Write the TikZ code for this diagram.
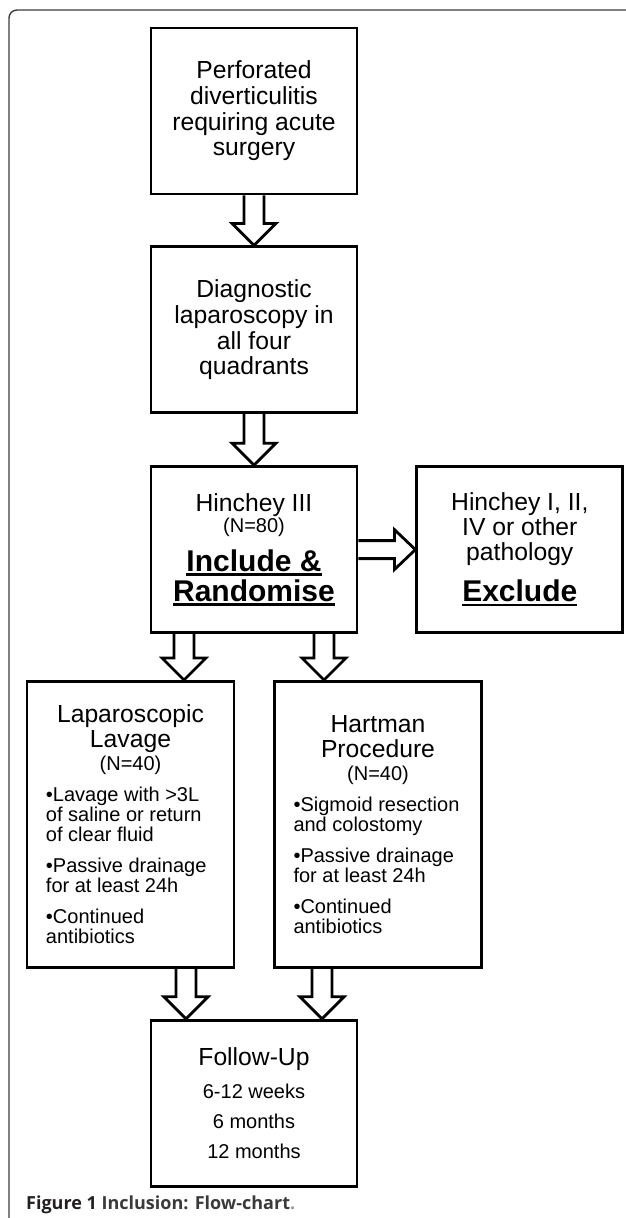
\documentclass[tikz,border=0pt]{standalone}
\usepackage{fontspec}
\setmainfont{Liberation Sans}
\newfontfamily\captionsans{Open Sans}
\usepackage{xcolor}
\definecolor{cLine}{HTML}{000000}
\definecolor{cFrame}{HTML}{3C3C3C}
\definecolor{cCaption}{HTML}{231F20}
\definecolor{cCaptionSoft}{HTML}{3A3A3A}
\definecolor{cDot}{HTML}{9A9A9A}
\usepackage{tikz}
\usetikzlibrary{positioning,calc}
\newcommand\flowline[3]{{\fontsize{#1}{#2}\selectfont\lineskiplimit=-30pt #3\par}}
\newcommand\flowbullet[1]{{\fontsize{20}{20}\selectfont\raggedright\leftskip=9pt
  \vspace{11pt}#1\par}}
\newcommand\ulbold[1]{\leavevmode\setbox0\hbox{#1}\rlap{\rule[-4.5pt]{\wd0}{2.6pt}}\box0}
\tikzset{
  node-box/.style={draw=cLine,line width=2.8pt,minimum width=206pt,minimum height=166pt,
    inner sep=0pt,text width=186pt,align=flush center,
    font=\fontsize{24.7}{25.7}\selectfont},
  node-tall/.style={node-box,minimum width=207pt,minimum height=286pt,text width=187pt},
  arrow-down/.style={draw=cLine,line width=2.8pt,line join=miter,
    to path={($(\tikztostart)+(-10pt,0)$) -- ($(\tikztotarget)+(-10pt,22pt)$)
      -- ++(-12pt,0) -- (\tikztotarget) -- ++(22pt,22pt) -- ++(-12pt,0)
      -- ($(\tikztostart)+(10pt,0)$)}},
  arrow-right/.style={draw=cLine,line width=2.8pt,line join=miter,
    to path={($(\tikztostart)+(0,9pt)$) -- ($(\tikztotarget)+(-21pt,9pt)$)
      -- ++(0,11pt) -- (\tikztotarget) -- ++(-21pt,-20pt) -- ++(0,11pt)
      -- ($(\tikztostart)+(0,-9pt)$)}},
  frame-line/.style={draw=cFrame,line width=1.4pt,rounded corners=8pt},
}

\begin{document}
\begin{tikzpicture}
  \useasboundingbox (0,0) rectangle (625pt,-1218pt);
  \draw[frame-line] (9pt,-1240pt) |- (640pt,-10pt);

  \node[node-box] (perf) at (254pt,-111pt)
    {Perforated\\ diverticulitis\\ requiring acute\\ surgery};
  \node[node-box,below=50pt of perf] (diag)
    {Diagnostic\\ laparoscopy in\\ all four\\ quadrants};
  \node[node-box,below=51pt of diag] (hinchey) {%
    \flowline{24.7}{25.7}{Hinchey III}
    \flowline{20}{21}{(N=80)}
    \flowline{30}{39}{\bfseries\ulbold{Include \&}}
    \flowline{30}{30}{\bfseries\ulbold{Randomise}}};
  \node[node-box,right=57pt of hinchey] (excl) {%
    \flowline{24.7}{25.7}{Hinchey I, II,}
    \flowline{24.7}{25}{IV or other}
    \flowline{24.7}{25}{pathology}
    \flowline{30}{41}{\bfseries\ulbold{Exclude}}};
  \node[node-tall,below=46pt of hinchey,xshift=-123.5pt] (lavage) {%
    \flowline{24.7}{25}{Laparoscopic}
    \flowline{24.7}{25}{Lavage}
    \flowline{20}{23}{(N=40)}
    \flowbullet{•Lavage with >3L\\ of saline or return\\ of clear fluid}
    \flowbullet{•Passive drainage\\ for at least 24h}
    \flowbullet{•Continued\\ antibiotics}};
  \node[node-tall,below=46pt of hinchey,xshift=124pt] (hartman) {%
    \flowline{24.7}{25}{Hartman}
    \flowline{24.7}{25}{Procedure}
    \flowline{20}{23}{(N=40)}
    \flowbullet{•Sigmoid resection\\ and colostomy}
    \flowbullet{•Passive drainage\\ for at least 24h}
    \flowbullet{•Continued\\ antibiotics}};
  \coordinate (join) at (hinchey.south |- lavage.south);
  \node[node-box,below=50pt of join] (follow) {%
    \flowline{24.7}{25.7}{Follow-Up}
    \flowline{20}{33}{6-12 weeks}
    \flowline{20}{30}{6 months}
    \flowline{20}{30}{12 months}};

  \coordinate (lavage-in) at ([xshift=-70pt]hinchey.south |- lavage.north);
  \coordinate (hartman-in) at ([xshift=70pt]hinchey.south |- hartman.north);
  \coordinate (lavage-out) at ([xshift=-68pt]follow.north |- lavage.south);
  \coordinate (hartman-out) at ([xshift=68pt]follow.north |- hartman.south);
  \coordinate (follow-l) at ([xshift=-68pt]follow.north);
  \coordinate (follow-r) at ([xshift=68pt]follow.north);

  \draw[arrow-down] (perf.south) to (diag.north);
  \draw[arrow-down] (diag.south) to (hinchey.north);
  \draw[arrow-right] (hinchey.east) to (excl.west);
  \draw[arrow-down] ([xshift=-70pt]hinchey.south) to (lavage-in);
  \draw[arrow-down] ([xshift=70pt]hinchey.south) to (hartman-in);
  \draw[arrow-down] (lavage-out) to (follow-l);
  \draw[arrow-down] (hartman-out) to (follow-r);

  \node[anchor=base west,inner sep=0pt,text=cCaption,
    font=\captionsans\fontsize{18}{19}\selectfont\bfseries] (caption) at (26pt,-1209pt)
    {Figure 1 \textcolor{cCaptionSoft}{Inclusion: Flow-chart}\textcolor{cDot}{.}};
\end{tikzpicture}
\end{document}
